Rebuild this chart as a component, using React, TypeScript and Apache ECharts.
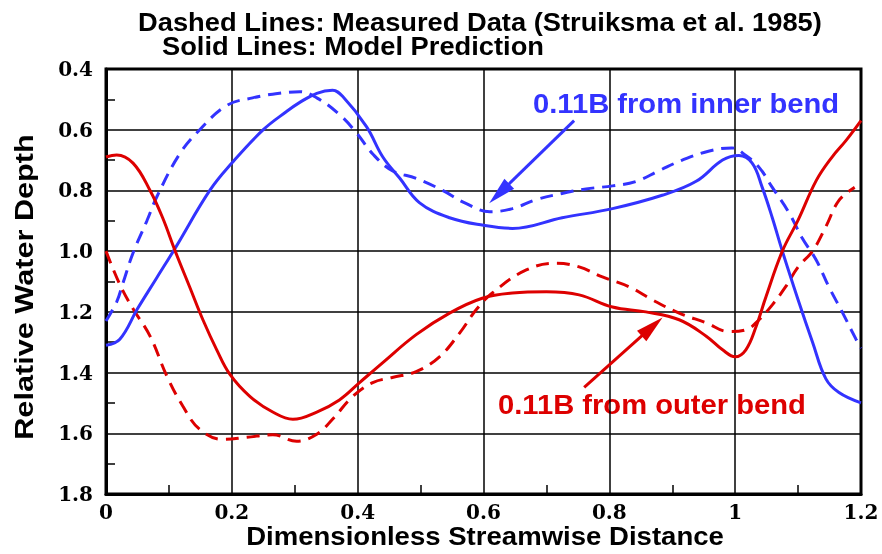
import React, { useEffect, useRef } from "react";
import * as echarts from "echarts";

// Relative water depth along the bend, 0.11B from the inner and outer banks
const modelInner: [number, number][] = [
  [0, 1.31], [0.022, 1.29], [0.05, 1.19], [0.08, 1.09], [0.11, 0.99], [0.165, 0.8],
  [0.2, 0.71], [0.25, 0.6], [0.287, 0.54], [0.308, 0.51], [0.335, 0.48], [0.36, 0.47],
  [0.376, 0.49], [0.414, 0.59], [0.44, 0.69], [0.467, 0.76], [0.498, 0.84], [0.546, 0.89],
  [0.6, 0.915], [0.646, 0.925], [0.725, 0.89], [0.805, 0.86], [0.884, 0.816], [0.938, 0.77],
  [0.98, 0.7], [1.006, 0.685], [1.027, 0.71], [1.043, 0.79], [1.059, 0.89], [1.075, 1.0],
  [1.1, 1.16], [1.123, 1.3], [1.144, 1.42], [1.165, 1.466], [1.2, 1.5],
];

const measuredInner: [number, number][] = [
  [0, 1.23], [0.017, 1.167], [0.027, 1.105], [0.043, 1.006], [0.065, 0.9], [0.081, 0.82],
  [0.117, 0.68], [0.149, 0.6], [0.192, 0.52], [0.233, 0.495], [0.276, 0.48], [0.308, 0.475],
  [0.335, 0.495], [0.371, 0.55], [0.398, 0.61], [0.424, 0.68], [0.455, 0.735], [0.493, 0.76],
  [0.535, 0.8], [0.572, 0.843], [0.61, 0.87], [0.646, 0.86], [0.684, 0.83], [0.725, 0.81],
  [0.763, 0.795], [0.805, 0.785], [0.843, 0.77], [0.879, 0.735], [0.916, 0.7], [0.959, 0.67],
  [0.995, 0.66], [1.017, 0.685], [1.038, 0.724], [1.059, 0.79], [1.086, 0.875], [1.106, 0.955],
  [1.129, 1.03], [1.149, 1.118], [1.17, 1.2], [1.192, 1.29], [1.2, 1.32],
];

const modelOuter: [number, number][] = [
  [0, 0.69], [0.017, 0.683], [0.043, 0.71], [0.07, 0.8], [0.09, 0.89], [0.11, 1.0],
  [0.133, 1.118], [0.154, 1.226], [0.176, 1.325], [0.197, 1.406], [0.229, 1.479], [0.265, 1.53],
  [0.297, 1.554], [0.335, 1.53], [0.371, 1.49], [0.403, 1.433], [0.44, 1.367], [0.493, 1.275],
  [0.546, 1.204], [0.598, 1.155], [0.646, 1.138], [0.7, 1.134], [0.752, 1.144], [0.805, 1.184],
  [0.858, 1.2], [0.911, 1.226], [0.954, 1.28], [0.98, 1.325], [1.0, 1.348], [1.017, 1.325],
  [1.033, 1.25], [1.049, 1.15], [1.075, 1.0], [1.1, 0.898], [1.129, 0.767], [1.154, 0.69],
  [1.176, 0.636], [1.2, 0.57],
];

const measuredOuter: [number, number][] = [
  [0, 1.0], [0.022, 1.11], [0.043, 1.19], [0.07, 1.28], [0.097, 1.413], [0.122, 1.51],
  [0.149, 1.587], [0.186, 1.62], [0.224, 1.613], [0.265, 1.605], [0.303, 1.626], [0.335, 1.603],
  [0.36, 1.554], [0.392, 1.479], [0.424, 1.433], [0.455, 1.416], [0.493, 1.397], [0.53, 1.348],
  [0.562, 1.27], [0.588, 1.194], [0.614, 1.138], [0.668, 1.062], [0.716, 1.04], [0.752, 1.052],
  [0.789, 1.085], [0.832, 1.118], [0.868, 1.16], [0.911, 1.204], [0.954, 1.236], [0.99, 1.265],
  [1.017, 1.259], [1.038, 1.226], [1.059, 1.177], [1.08, 1.118], [1.1, 1.052], [1.123, 1.0],
  [1.144, 0.92], [1.165, 0.833], [1.19, 0.79],
];

// Annotation arrows (tail -> head) in data coordinates
const innerArrow: [number, number][] = [[0.744, 0.57], [0.625, 0.81]];
const outerArrow: [number, number][] = [[0.76, 1.449], [0.868, 1.249]];

const titleLines = [
  "Dashed Lines: Measured Data (Struiksma et al. 1985)",
  "Solid Lines: Model Prediction",
];
const innerLabel = "0.11B from inner bend";
const outerLabel = "0.11B from outer bend";
const xName = "Dimensionless Streamwise Distance";
const yName = "Relative Water Depth";

const BLUE = "#3333ff";
const RED = "#dd0000";
const SANS = "'Liberation Sans', Arial, sans-serif";
const SERIF = "'DejaVu Serif', serif";

export default function App() {
  const ref = useRef<HTMLDivElement>(null);

  useEffect(() => {
    if (!ref.current) return;
    const chart = echarts.init(ref.current, null, { renderer: "svg" });

    const arrowLine = (pts: [number, number][], color: string) => ({
      silent: true,
      symbol: ["none", "triangle"],
      symbolSize: [14, 28],
      label: { show: false },
      lineStyle: { color, width: 3, type: "solid" },
      data: [[{ coord: pts[0] }, { coord: pts[1] }]],
    });

    const lineSeries = (
      data: [number, number][],
      color: string,
      dashed: boolean,
      extra: object = {}
    ) => ({
      type: "line",
      data,
      smooth: 0.4,
      showSymbol: false,
      symbol: "none",
      lineStyle: { color, width: 3, type: dashed ? [13, 8] : "solid" },
      ...extra,
    });

    const text = (
      s: string,
      x: number,
      y: number,
      size: number,
      fill: string,
      opts: Record<string, any> = {}
    ) => ({
      type: "text",
      x,
      y,
      scaleX: opts.scaleX ?? 1,
      rotation: opts.rotation ?? 0,
      style: {
        text: s,
        fill,
        font: `bold ${size}px ${SANS}`,
        align: opts.align ?? "left",
        verticalAlign: "middle",
      },
    });

    chart.setOption({
      animation: false,
      grid: {
        left: 106,
        right: 21,
        top: 69,
        bottom: 60,
        show: true,
        borderColor: "#000",
        borderWidth: 3,
      },
      xAxis: {
        type: "value",
        min: 0,
        max: 1.2,
        interval: 0.2,
        axisLine: { show: true, lineStyle: { color: "#000", width: 3 } },
        axisTick: { show: false, inside: true },
        minorTick: { show: true, splitNumber: 2, length: 9, lineStyle: { color: "#000", width: 1.5 } },
        splitLine: { show: true, lineStyle: { color: "#000", width: 1.5 } },
        axisLabel: {
          margin: 8,
          color: "#000",
          fontFamily: SERIF,
          fontWeight: "bold",
          fontSize: 20,
        },
      },
      yAxis: {
        type: "value",
        inverse: true,
        min: 0.4,
        max: 1.8,
        interval: 0.2,
        axisLine: { show: true, lineStyle: { color: "#000", width: 3 } },
        axisTick: { show: false, inside: true },
        minorTick: { show: true, splitNumber: 2, length: 9, lineStyle: { color: "#000", width: 1.5 } },
        splitLine: { show: true, lineStyle: { color: "#000", width: 1.5 } },
        axisLabel: {
          margin: 13,
          color: "#000",
          fontFamily: SERIF,
          fontWeight: "bold",
          fontSize: 20,
          formatter: (v: number) => v.toFixed(1),
        },
      },
      series: [
        lineSeries(measuredInner, BLUE, true),
        lineSeries(measuredOuter, RED, true),
        lineSeries(modelInner, BLUE, false, { markLine: arrowLine(innerArrow, BLUE) }),
        lineSeries(modelOuter, RED, false, { markLine: arrowLine(outerArrow, RED) }),
      ],
      graphic: [
        text(titleLines[0], 138, 22, 26, "#000", { scaleX: 1.05 }),
        text(titleLines[1], 162, 46, 26, "#000", { scaleX: 1.05 }),
        text(innerLabel, 533, 104, 27, BLUE, { scaleX: 1.08 }),
        text(outerLabel, 498, 405, 27, RED, { scaleX: 1.08 }),
        text(xName, 485, 536, 26, "#000", { align: "center", scaleX: 1.06 }),
        text(yName, 24, 287, 26, "#000", { align: "center", scaleX: 1.18, rotation: Math.PI / 2 }),
      ],
    });

    return () => chart.dispose();
  }, []);

  return (
    <div
      ref={ref}
      style={{ position: "fixed", left: 0, top: 0, width: 882, height: 554 }}
    />
  );
}
